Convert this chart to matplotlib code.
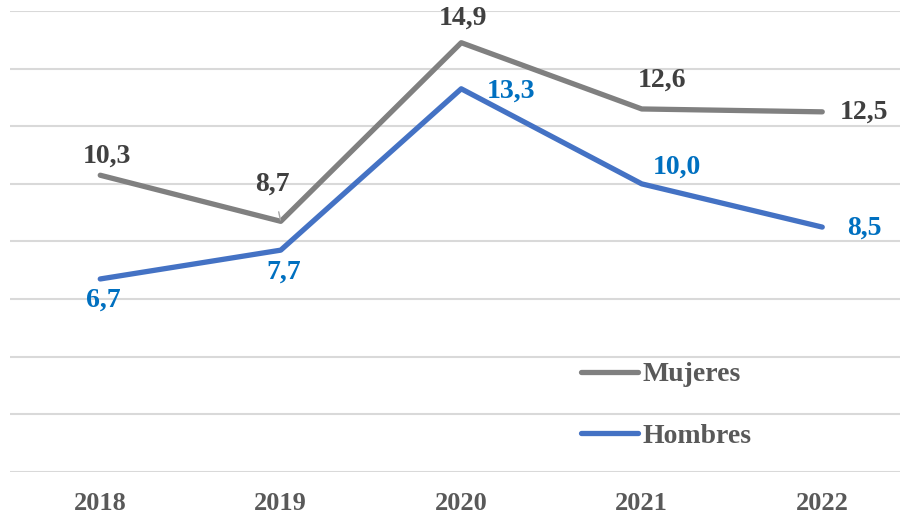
import matplotlib.pyplot as plt

years = ["2018", "2019", "2020", "2021", "2022"]
mujeres = [10.3, 8.7, 14.9, 12.6, 12.5]
hombres = [6.7, 7.7, 13.3, 10.0, 8.5]

# label offsets in pixels (dx, dy)
off_m = [(7, 19), (-8, 37), (2, 25), (20, 29), (42, 0)]
off_h = [(3, -21), (3, -22), (50, -2), (35, 17), (42, -1)]

plt.rcParams['font.family'] = ['Liberation Serif', 'DejaVu Serif']
plt.rcParams['font.weight'] = 'bold'

fig = plt.figure(figsize=(9, 5.16), dpi=100)
ax = fig.add_axes([10 / 900, 1 - 472 / 516, 890 / 900, 461 / 516])

x = list(range(len(years)))
ax.plot(x, mujeres, color='#808080', lw=3.8, label='Mujeres', solid_capstyle='round', zorder=3)
ax.plot(x, hombres, color='#4472C4', lw=3.8, label='Hombres', solid_capstyle='round', zorder=3)

for i, v in enumerate(mujeres):
    lbl = f"{v:.1f}".replace('.', ',')
    if i == 1:
        ax.annotate(lbl, (i, v), xytext=off_m[i], textcoords='offset pixels',
                    ha='center', va='center', fontsize=20, fontweight='bold', color='#404040',
                    arrowprops=dict(arrowstyle='-', color='#a6a6a6', lw=1, shrinkA=9, shrinkB=1))
    else:
        ax.annotate(lbl, (i, v), xytext=off_m[i], textcoords='offset pixels',
                    ha='center', va='center', fontsize=20, fontweight='bold', color='#404040')
for i, v in enumerate(hombres):
    lbl = f"{v:.1f}".replace('.', ',')
    ax.annotate(lbl, (i, v), xytext=off_h[i], textcoords='offset pixels',
                ha='center', va='center', fontsize=20, fontweight='bold', color='#0070C0')

ax.set_xlim(-0.5, -0.5 + 890 / 180.5)
ax.set_ylim(0, 16)
ax.set_yticks(range(0, 17, 2))
ax.yaxis.grid(True, color='#d9d9d9', lw=1.5)
ax.set_axisbelow(True)
ax.tick_params(axis='y', left=False, labelleft=False)
ax.tick_params(axis='x', bottom=False, pad=11, labelsize=19, labelcolor='#595959')
ax.set_xticks(x)
ax.set_xticklabels(years, fontweight='bold')
for s in ax.spines.values():
    s.set_visible(False)

leg = ax.legend(loc='upper left', bbox_to_anchor=(581 / 900, 1 - 362 / 516),
                bbox_transform=fig.transFigure, frameon=False, fontsize=20,
                handlelength=2.05, handletextpad=0.15, labelspacing=1.3,
                borderpad=0, borderaxespad=0, labelcolor='#595959')
for t in leg.get_texts():
    t.set_fontweight('bold')

fig.savefig('out.png', dpi=100)
